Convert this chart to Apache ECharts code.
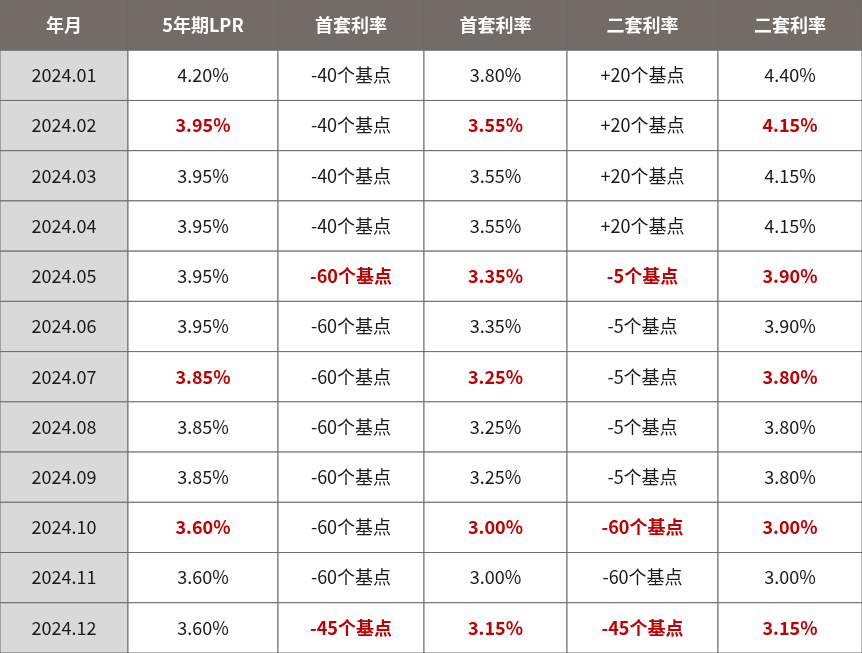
<!DOCTYPE html>
<html>
<head>
<meta charset="utf-8">
<script src="https://cdn.jsdelivr.net/npm/echarts@6/dist/echarts.min.js"></script>
<style>html,body{margin:0;padding:0;background:#fff}#main{width:862px;height:653px}</style>
</head>
<body>
<div id="main"></div>
<script>
var headers = ['年月', '5年期LPR', '首套利率', '首套利率', '二套利率', '二套利率'];
var months = ['2024.01','2024.02','2024.03','2024.04','2024.05','2024.06','2024.07','2024.08','2024.09','2024.10','2024.11','2024.12'];
var lpr = ['4.20%','3.95%','3.95%','3.95%','3.95%','3.95%','3.85%','3.85%','3.85%','3.60%','3.60%','3.60%'];
var firstBp = ['-40个基点','-40个基点','-40个基点','-40个基点','-60个基点','-60个基点','-60个基点','-60个基点','-60个基点','-60个基点','-60个基点','-45个基点'];
var firstRate = ['3.80%','3.55%','3.55%','3.55%','3.35%','3.35%','3.25%','3.25%','3.25%','3.00%','3.00%','3.15%'];
var secondBp = ['+20个基点','+20个基点','+20个基点','+20个基点','-5个基点','-5个基点','-5个基点','-5个基点','-5个基点','-60个基点','-60个基点','-45个基点'];
var secondRate = ['4.40%','4.15%','4.15%','4.15%','3.90%','3.90%','3.80%','3.80%','3.80%','3.00%','3.00%','3.15%'];
// changed cells [row, col]
var highlights = [[1,1],[1,3],[1,5],[4,2],[4,3],[4,4],[4,5],[6,1],[6,3],[6,5],[9,1],[9,3],[9,4],[9,5],[11,2],[11,3],[11,4],[11,5]];

// layout: relative column edges
var colEdges = [0, 128, 278, 424, 567, 718, 862];

var columns = [months, lpr, firstBp, firstRate, secondBp, secondRate];
var hl = {};
highlights.forEach(function (h) { hl[h[0] + '_' + h[1]] = true; });

var data = [];
headers.forEach(function (h, c) { data.push([c, 0, h, 'head']); });
months.forEach(function (m, r) {
  columns.forEach(function (col, c) {
    data.push([c, r + 1, col[r], c === 0 ? 'first' : (hl[r + '_' + c] ? 'hl' : 'normal')]);
  });
});

var chart = echarts.init(document.getElementById('main'));
chart.setOption({
  animation: false,
  grid: { left: 0, right: 0, top: 0, bottom: 0 },
  xAxis: { type: 'value', min: 0, max: colEdges[colEdges.length - 1], show: false },
  yAxis: { type: 'value', min: 0, max: 13, inverse: true, show: false },
  series: [{
    type: 'custom',
    data: data,
    renderItem: function (params, api) {
      var c = api.value(0), r = api.value(1);
      var p0 = api.coord([colEdges[c], r]), p1 = api.coord([colEdges[c + 1], r + 1]);
      var kind = data[params.dataIndex][3];
      var text = data[params.dataIndex][2];
      var fill = kind === 'head' ? '#726b66' : (kind === 'first' ? '#d9d9d9' : '#ffffff');
      var color = kind === 'head' ? '#ffffff' : (kind === 'hl' ? '#c00000' : '#1a1a1a');
      var bold = kind === 'head' || kind === 'hl';
      return {
        type: 'group',
        children: [{
          type: 'rect',
          shape: { x: p0[0], y: p0[1], width: p1[0] - p0[0], height: p1[1] - p0[1] },
          style: { fill: fill, stroke: '#6b6b6b', lineWidth: 1 }
        }, {
          type: 'text',
          style: {
            x: (p0[0] + p1[0]) / 2, y: (p0[1] + p1[1]) / 2,
            text: text, align: 'center', verticalAlign: 'middle',
            fill: color, fontSize: 18, fontWeight: bold ? 'bold' : 'normal',
            fontFamily: 'Noto Sans CJK SC'
          }
        }]
      };
    }
  }]
});
</script>
</body>
</html>
